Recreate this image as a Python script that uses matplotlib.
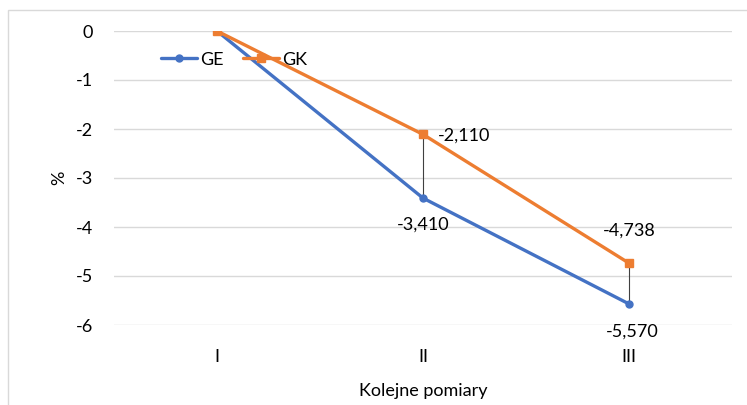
import matplotlib
matplotlib.use("Agg")
import matplotlib.pyplot as plt
from matplotlib.patches import Rectangle

categories = ["I", "II", "III"]
ge_values = [0.0, -3.410, -5.570]
gk_values = [0.0, -2.110, -4.738]
y_ticks = [0, -1, -2, -3, -4, -5, -6]

BLUE = "#4472C4"
ORANGE = "#ED7D31"
GRID = "#D9D9D9"
TEXT = "#000000"
FS = 13

plt.rcParams["font.family"] = ["Lato", "DejaVu Sans"]

W, H = 747, 405
fig = plt.figure(figsize=(W / 100, H / 100), dpi=100)

# light chart-area frame
fig.patches.append(Rectangle((8 / W, -0.05), 1.0, (H - 10) / H + 0.05,
                             transform=fig.transFigure, fill=False,
                             edgecolor=GRID, linewidth=1.0))

ax = fig.add_axes([114 / W, (H - 325) / H, (732 - 114) / W, (325 - 31) / H])
x = list(range(len(categories)))

ax.set_xlim(-0.5, len(categories) - 0.5)
ax.set_ylim(-6, 0)
ax.set_yticks(y_ticks)
ax.set_yticklabels([str(t) for t in y_ticks], fontsize=FS, color=TEXT)
ax.set_xticks(x)
ax.set_xticklabels(categories, fontsize=FS, color=TEXT)
ax.tick_params(length=0, pad=15, axis="y")
ax.tick_params(length=0, pad=17, axis="x")
for s in ax.spines.values():
    s.set_visible(False)
ax.grid(axis="y", color=GRID, linewidth=1.0)
ax.set_axisbelow(True)

# high-low lines between the two series
for xi, a, b in zip(x, ge_values, gk_values):
    ax.vlines(xi, min(a, b), max(a, b), color="#404040", linewidth=0.8, zorder=2)

ax.plot(x, ge_values, color=BLUE, linewidth=2.4, marker="o", markersize=5,
        label="GE", zorder=3, solid_capstyle="round")
ax.plot(x, gk_values, color=ORANGE, linewidth=2.4, marker="s", markersize=6,
        label="GK", zorder=4, solid_capstyle="round")

def fmt(v):
    return f"{v:.3f}".replace(".", ",")

# data labels for II and III
ax.annotate(fmt(gk_values[1]), (x[1], gk_values[1]), xytext=(11, -1),
            textcoords="offset points", ha="left", va="center", fontsize=FS)
ax.annotate(fmt(ge_values[1]), (x[1], ge_values[1]), xytext=(0, -13),
            textcoords="offset points", ha="center", va="top", fontsize=FS)
ax.annotate(fmt(gk_values[2]), (x[2], gk_values[2]), xytext=(0, 18),
            textcoords="offset points", ha="center", va="bottom", fontsize=FS)
ax.annotate(fmt(ge_values[2]), (x[2], ge_values[2]), xytext=(2, -14),
            textcoords="offset points", ha="center", va="top", fontsize=FS)

ax.set_ylabel("%", fontsize=FS, labelpad=6)
ax.set_xlabel("Kolejne pomiary", fontsize=FS, labelpad=13)

leg = ax.legend(loc="upper left", bbox_to_anchor=(0.05, 0.985), ncol=2,
                frameon=False, fontsize=FS, handlelength=2.0,
                handletextpad=0.15, columnspacing=1.1)

fig.savefig("out.png", dpi=100)
